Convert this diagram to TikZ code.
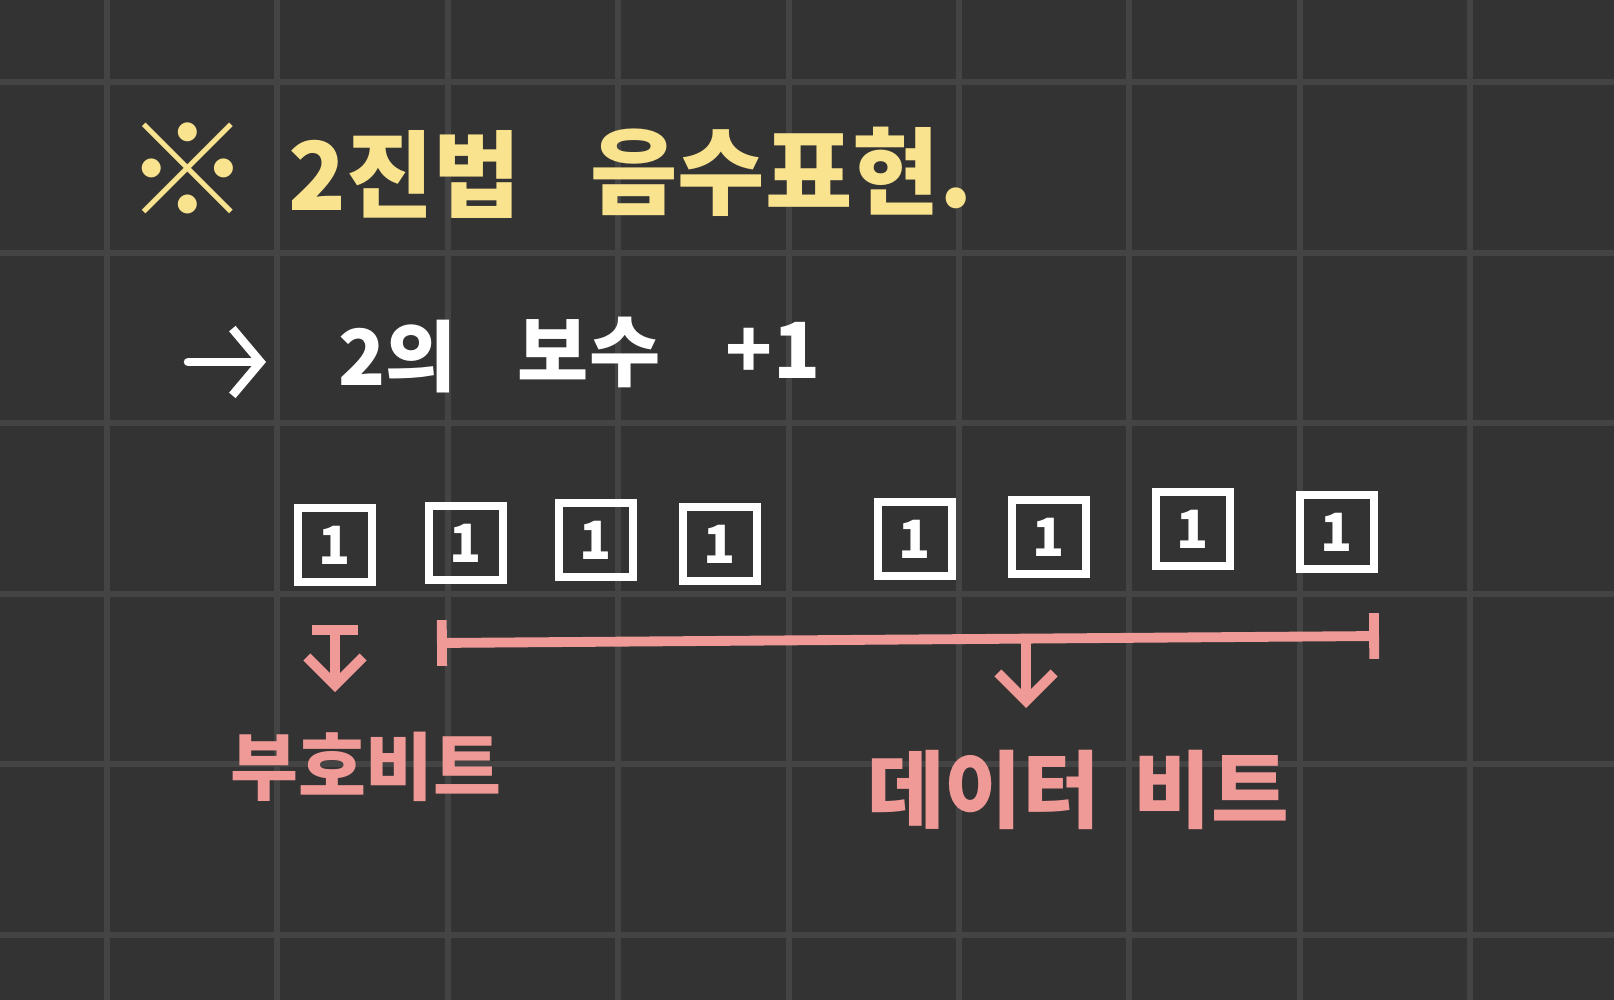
\documentclass[tikz,border=0pt]{standalone}
\usepackage{fontspec}
\newfontfamily\krfont{Noto Sans CJK KR}
\usetikzlibrary{arrows.meta}
\definecolor{board}{HTML}{333333}
\definecolor{gridline}{HTML}{444444}
\definecolor{chalkyellow}{HTML}{F9E38E}
\definecolor{chalkpink}{HTML}{F09A98}

\begin{document}
\begin{tikzpicture}[x=0.01cm, y=-0.01cm,
    heading/.style={text=chalkyellow, font=\krfont\bfseries\fontsize{27}{27}\selectfont},
    note/.style={text=white, font=\krfont\bfseries\fontsize{22}{22}\selectfont},
    bitname/.style={text=chalkpink, font=\krfont\bfseries\fontsize{21}{21}\selectfont},
    bitbox/.style={draw=white, line width=2.4pt, minimum width=0.74cm,
      minimum height=0.74cm, inner sep=0pt, text=white,
      font=\krfont\bfseries\fontsize{15}{15}\selectfont},
    whitepen/.style={white, line width=2.4pt, line cap=round},
    pinkpen/.style={chalkpink, line width=2.8pt, line cap=round}]
  \fill[board] (0,0) rectangle (1614,1000);
  \useasboundingbox (0,0) rectangle (1614,1000);
  % grid of the note page
  \foreach \gx in {0,...,8}
    \draw[gridline, line width=1.7pt] ({107+170.4*\gx},0) -- ({107+170.4*\gx},1000);
  \foreach \gy in {0,...,5}
    \draw[gridline, line width=1.7pt] (0,{82+170.6*\gy}) -- (1614,{82+170.6*\gy});

  % title
  \node[heading, font=\krfont\bfseries\fontsize{36}{36}\selectfont] (mark) at (188,170) {※};
  \node[heading, anchor=west] (binary) at (276,174) {2진법};
  \node[heading, anchor=west] (negrep) at (578,172) {음수표현.};

  % two's complement line
  \coordinate (arrowtail) at (188,362);
  \coordinate (arrowhead) at (266,362);
  \draw[whitepen, -{Straight Barb[length=8pt, width=19pt]}] (arrowtail) -- (arrowhead);
  \node[note] (twoof) at (398,357) {2의};
  \node[note] (complement) at (589,352) {보수};
  \node[note] (plusone) at (773,350) {+1};

  % eight bits
  \foreach \bx/\by [count=\i] in {335/545, 466/543, 596/540, 720/544,
      915/539, 1049/537, 1193/529, 1337/532}
    \node[bitbox] (bit\i) at (\bx,\by) {1};

  % sign bit
  \coordinate (signtop) at (335,625);
  \coordinate (signtip) at (335,692);
  \draw[pinkpen, {Bar[width=13pt]}-{Straight Barb[length=8pt, width=16pt]}]
    (signtop) -- (signtip);
  \node[bitname] (signlabel) at (366,767) {부호비트};

  % data bits
  \coordinate (databegin) at (437,643);
  \coordinate (dataend) at (1379,636);
  \draw[pinkpen, {Bar[width=13pt]}-{Bar[width=13pt]}] (databegin) -- (dataend);
  \coordinate (datamid) at (1026,640);
  \coordinate (datatip) at (1026,708);
  \draw[pinkpen, -{Straight Barb[length=8pt, width=16pt]}] (datamid) -- (datatip);
  \node[bitname, font=\krfont\bfseries\fontsize{24}{24}\selectfont] (datalabel)
    at (1078,790) {데이터\hspace{0.4em}비트};
\end{tikzpicture}
\end{document}
